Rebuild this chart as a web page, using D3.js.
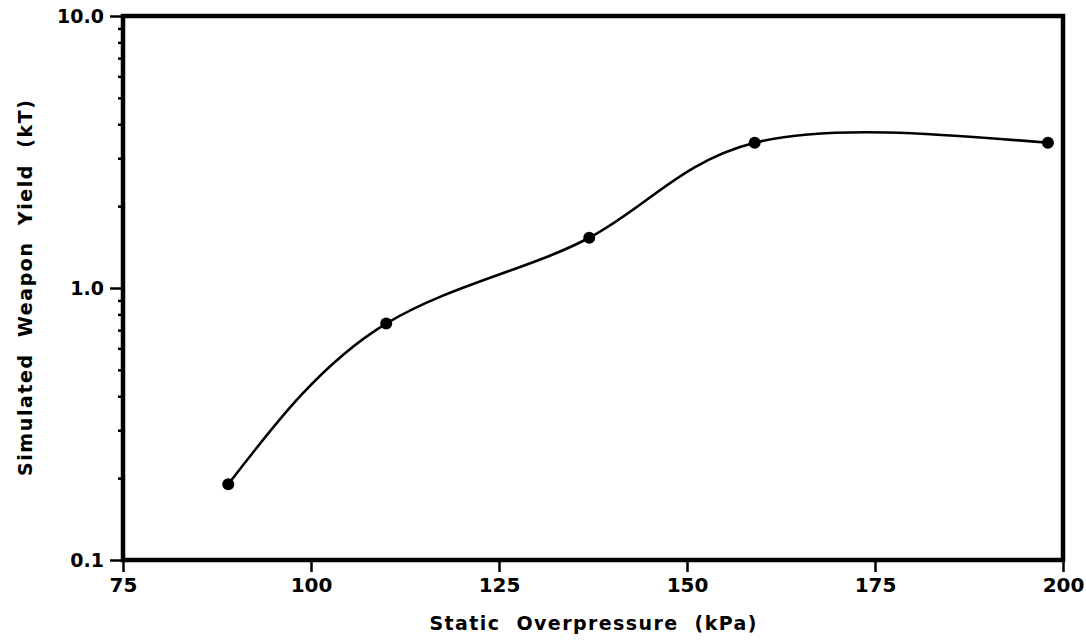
<!DOCTYPE html>
<html>
<head>
<meta charset="utf-8">
<script src="https://cdn.jsdelivr.net/npm/d3@7"></script>
<style>
  body { margin: 0; background: #fff; }
  text { font-family: "DejaVu Sans", Lato, sans-serif; font-weight: 700; fill: #000; }
</style>
</head>
<body>
<div id="chart"></div>
<script>
let width = 1086
let height = 641
let margin = {top: 16, right: 23, bottom: 81, left: 123}

// data
let pressure = [89, 110, 137, 159, 198]
let yieldKt = [0.19, 0.74, 1.53, 3.42, 3.42]
let xTicks = [75, 100, 125, 150, 175, 200]
let yTicks = [0.1, 1.0, 10.0]

let svg = d3.select('#chart')
            .append('svg')
            .attr('width', width)
            .attr('height', height)

let xScale = d3.scaleLinear().domain([75, 200]).range([margin.left, width - margin.right])
let yScale = d3.scaleLog().domain([0.1, 10]).range([height - margin.bottom, margin.top])

// minor log ticks
let minor = []
for (let dec of [0.1, 1]) {
  for (let k = 2; k <= 9; k++) minor.push(dec * k)
}

svg.append('g')
   .attr('transform', `translate(${margin.left}, 0)`)
   .call(d3.axisLeft(yScale).tickValues(minor).tickSize(5).tickFormat(''))
   .call(g => g.select('.domain').remove())
   .call(g => g.selectAll('line').attr('stroke-width', 2.5))

// -- Y axis
svg.append('g')
   .attr('transform', `translate(${margin.left}, 0)`)
   .call(d3.axisLeft(yScale).tickValues(yTicks).tickSize(13).tickPadding(6).tickFormat(d3.format('.1f')))
   .call(g => g.select('.domain').remove())
   .call(g => g.selectAll('line').attr('stroke-width', 2.5))
   .call(g => g.selectAll('text').style('font-size', '19px'))

// -- X axis
svg.append('g')
   .attr('transform', `translate(0, ${height - margin.bottom})`)
   .call(d3.axisBottom(xScale).tickValues(xTicks).tickSize(12).tickPadding(6))
   .call(g => g.select('.domain').remove())
   .call(g => g.selectAll('line').attr('stroke-width', 2.5))
   .call(g => g.selectAll('text').style('font-size', '20px'))

// frame
svg.append('rect')
   .attr('x', margin.left)
   .attr('y', margin.top)
   .attr('width', width - margin.left - margin.right)
   .attr('height', height - margin.top - margin.bottom)
   .attr('fill', 'none')
   .attr('stroke', '#000')
   .attr('stroke-width', 4.5)

// curve
let line = d3.line()
  .x((d, i) => xScale(pressure[i]))
  .y((d, i) => yScale(yieldKt[i]))
  .curve(d3.curveNatural)

svg.append('path')
   .datum(yieldKt)
   .attr('d', line)
   .attr('fill', 'none')
   .attr('stroke', '#000')
   .attr('stroke-width', 2.6)

svg.selectAll('circle')
   .data(yieldKt)
   .enter()
   .append('circle')
   .attr('cx', (d, i) => xScale(pressure[i]))
   .attr('cy', d => yScale(d))
   .attr('r', 6)
   .attr('fill', '#000')

// titles
svg.append('text')
   .attr('x', (margin.left + width - margin.right) / 2)
   .attr('y', 630)
   .attr('text-anchor', 'middle')
   .attr('textLength', 327)
   .attr('lengthAdjust', 'spacing')
   .style('font-size', '19px')
   .style('word-spacing', '8px')
   .text('Static Overpressure (kPa)')

svg.append('text')
   .attr('transform', `translate(32, ${(margin.top + height - margin.bottom) / 2}) rotate(-90)`)
   .attr('text-anchor', 'middle')
   .attr('textLength', 376)
   .attr('lengthAdjust', 'spacing')
   .style('font-size', '19px')
   .style('word-spacing', '8px')
   .text('Simulated Weapon Yield (kT)')
</script>
</body>
</html>
